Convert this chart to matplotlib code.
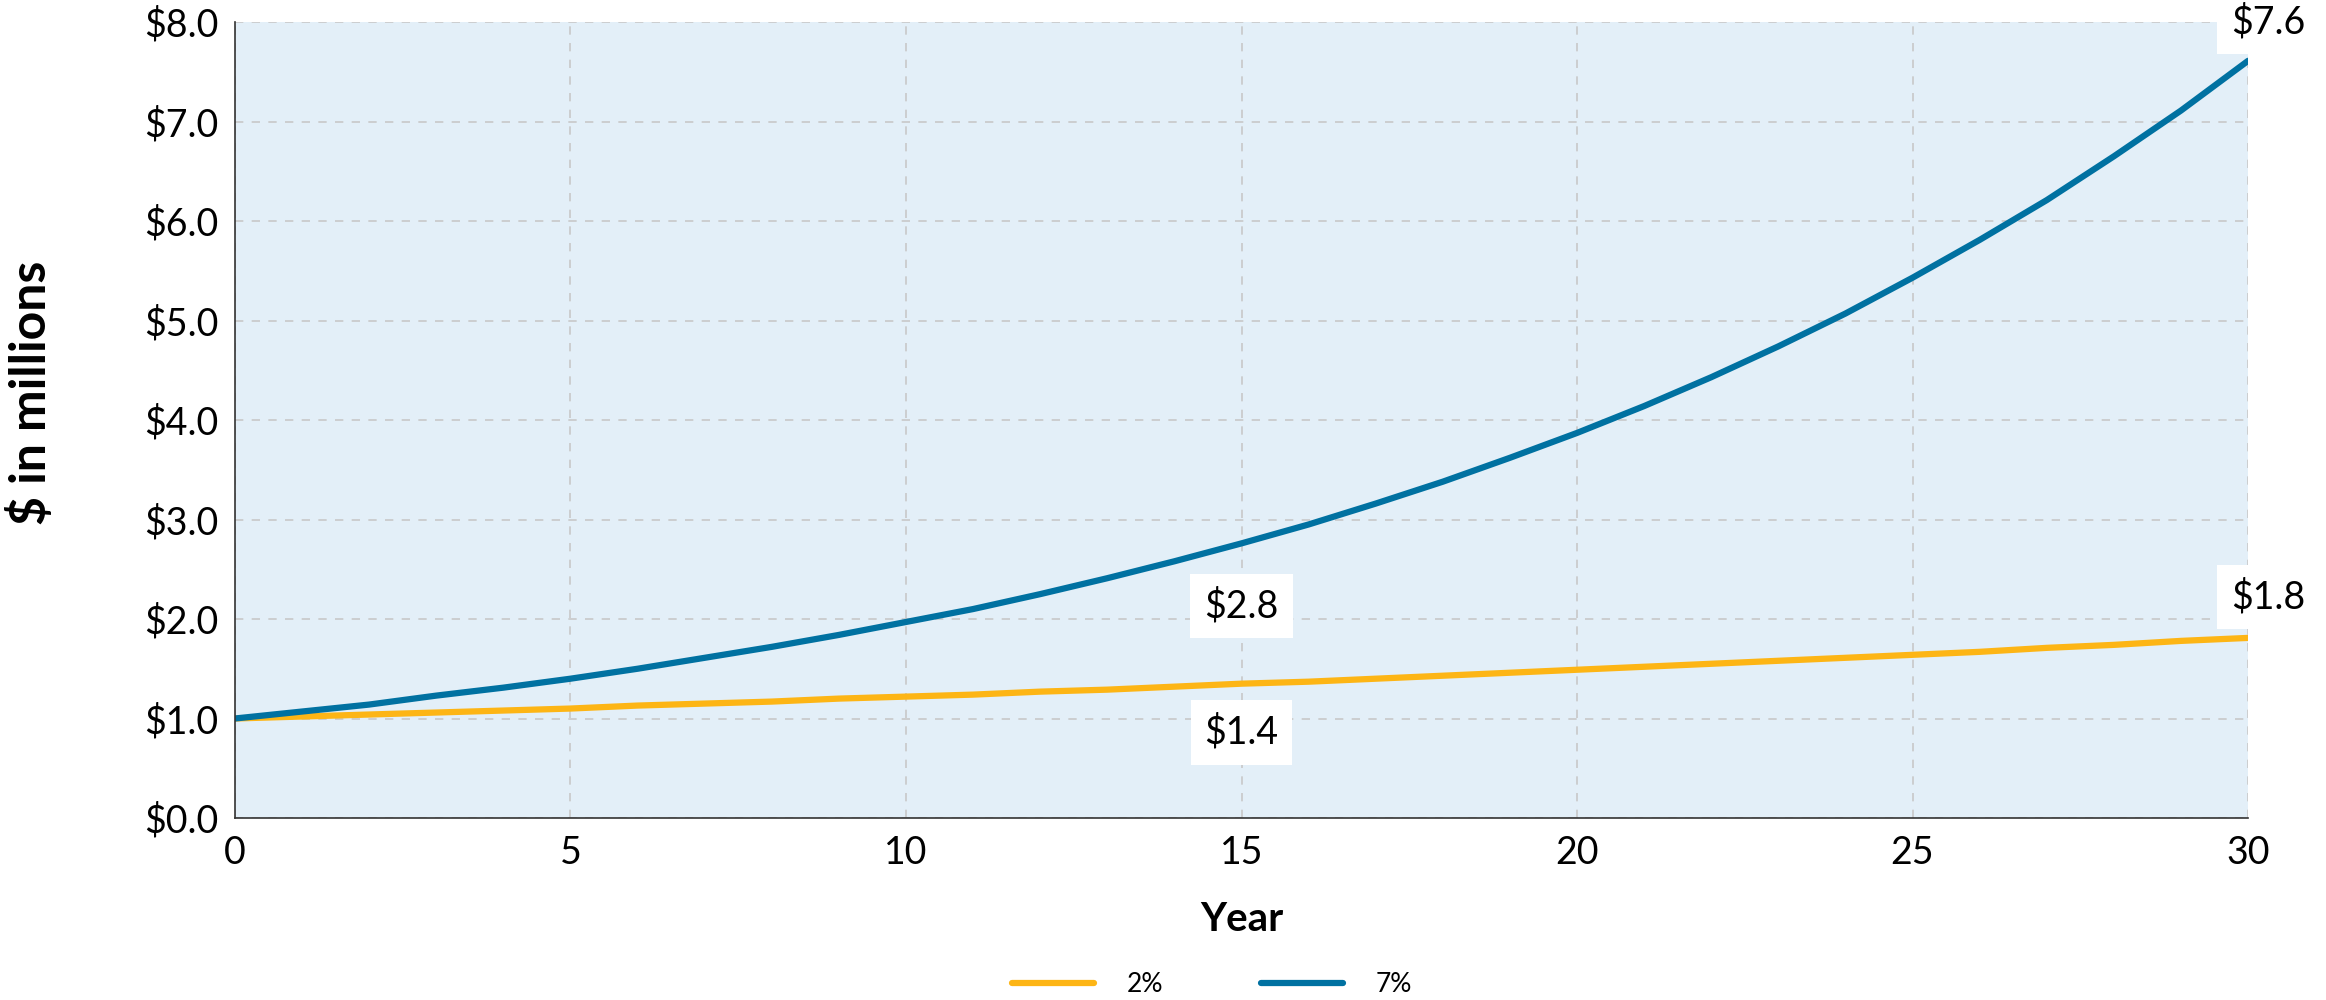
import matplotlib.pyplot as plt

plt.rcParams['font.family'] = ['Lato', 'DejaVu Sans']

# Growth of $1 million over 30 years
years = list(range(0, 31))
growth_2 = [1.00, 1.02, 1.04, 1.06, 1.08, 1.10, 1.13, 1.15, 1.17, 1.20, 1.22,
            1.24, 1.27, 1.29, 1.32, 1.35, 1.37, 1.40, 1.43, 1.46, 1.49,
            1.52, 1.55, 1.58, 1.61, 1.64, 1.67, 1.71, 1.74, 1.78, 1.81]
growth_7 = [1.00, 1.07, 1.14, 1.23, 1.31, 1.40, 1.50, 1.61, 1.72, 1.84, 1.97,
            2.10, 2.25, 2.41, 2.58, 2.76, 2.95, 3.16, 3.38, 3.62, 3.87,
            4.14, 4.43, 4.74, 5.07, 5.43, 5.81, 6.21, 6.65, 7.11, 7.61]

# callouts: (x, y, text)
callouts = [(15, 2.13, "$2.8"), (15, 0.86, "$1.4"),
            (30.3, 8.0, "$7.6"), (30.3, 2.22, "$1.8")]

YELLOW = '#FDB515'
BLUE = '#0071A1'
FONTSIZE = 27

fig = plt.figure(figsize=(23.26, 10), dpi=100)
ax = fig.add_axes([0.101, 0.182, 0.8655, 0.796])
ax.set_facecolor('#E3EFF8')

ax.plot(years, growth_2, color=YELLOW, linewidth=4.5, label='2%', solid_capstyle='round')
ax.plot(years, growth_7, color=BLUE, linewidth=4.5, label='7%', solid_capstyle='round')

for x, y, t in callouts:
    ax.text(x, y, t, ha='center', va='center', fontsize=FONTSIZE, zorder=5,
            clip_on=False,
            bbox=dict(facecolor='white', edgecolor='none', pad=10))

ax.set_xlim(0, 30)
ax.set_ylim(0, 8)
ax.set_xticks(range(0, 31, 5))
ax.set_yticks(range(0, 9))
ax.set_yticklabels([f'${v:.1f}' for v in range(0, 9)])
ax.tick_params(axis='both', labelsize=FONTSIZE, length=0, pad=12)

ax.grid(True, linestyle=(0, (5, 5)), color='#C8C8C8', linewidth=1.2)
ax.set_axisbelow(True)
for s in ['top', 'right']:
    ax.spines[s].set_visible(False)
for s in ['left', 'bottom']:
    ax.spines[s].set_color('#333333')
    ax.spines[s].set_linewidth(1.2)

ax.set_xlabel('Year', fontsize=29, fontweight='bold', labelpad=22)
fig.text(0.013, 0.607, '$ in millions', rotation=90, ha='center', va='center',
         fontsize=36, fontweight='bold')

fig.legend(loc='center', bbox_to_anchor=(0.521, 0.015), ncol=2, frameon=False,
           fontsize=19, handlelength=3.1, columnspacing=3.7, handletextpad=1.25)

plt.savefig('out.png', dpi=100)
plt.close()
